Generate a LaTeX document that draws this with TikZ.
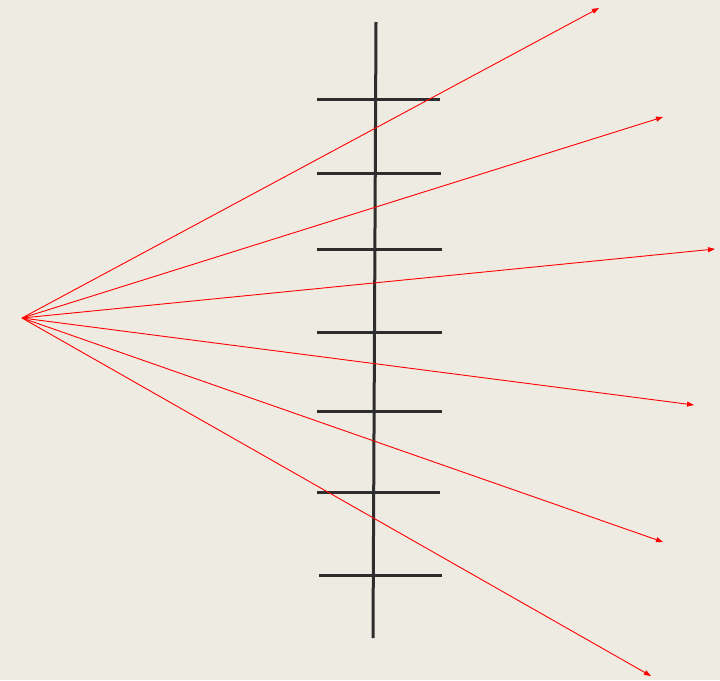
\documentclass[tikz,border=0pt]{standalone}
\usetikzlibrary{arrows.meta}
\definecolor{paper}{RGB}{238,235,227}
\definecolor{bar}{RGB}{45,45,45}
\tikzset{
  ray/.style={red,line width=0.9pt,-{Triangle[length=7pt,width=5pt]}},
  rung/.style={bar,line width=3pt}
}
\begin{document}
\begin{tikzpicture}[x=1pt,y=-1pt]
\fill[paper] (0,0) rectangle (720,680);
\useasboundingbox (0,0) rectangle (720,680);
\coordinate (top) at (376,22);
\coordinate (bottom) at (373,638);
\draw[rung] (top)--(bottom);
\foreach \y/\l/\r in {99/317/440,173/317/441,249/317/442,332/317/442,411/317/442,492/317/440,575/319/442}
  \draw[rung] (\l,\y)--(\r,\y);
\coordinate (src) at (22,318);
\coordinate (e1) at (599,8);
\coordinate (e2) at (663,117);
\coordinate (e3) at (715,249);
\coordinate (e4) at (694,405);
\coordinate (e5) at (663,542);
\coordinate (e6) at (651,676);
\foreach \e in {e1,e2,e3,e4,e5,e6}
  \draw[ray] (src)--(\e);
\end{tikzpicture}
\end{document}
